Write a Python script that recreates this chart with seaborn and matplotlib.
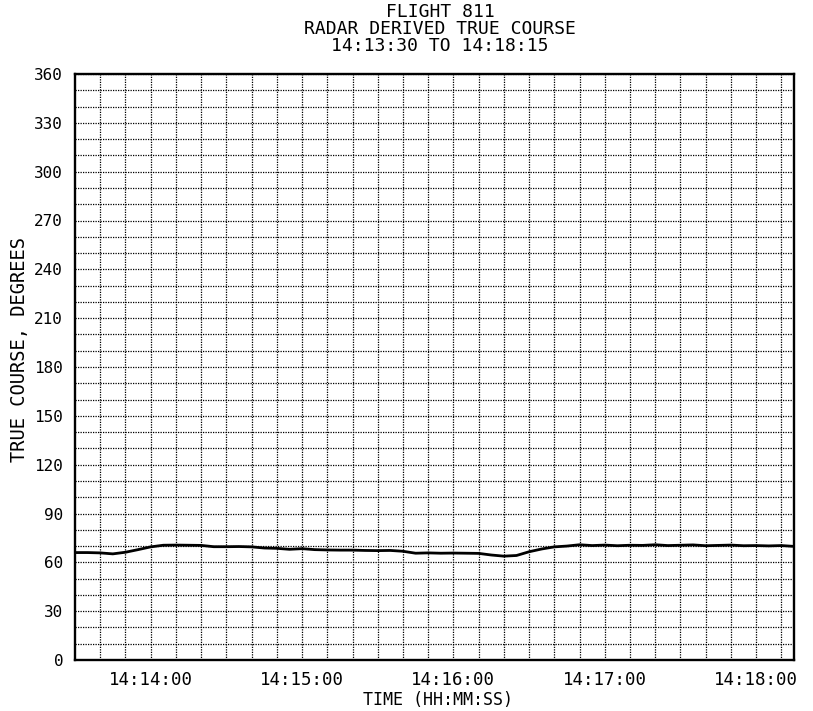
import pandas as pd
import numpy as np
import matplotlib
matplotlib.use("Agg")
import matplotlib.pyplot as plt
import seaborn as sns

# radar derived true course, one sample every 5 s
times = ["14:13:30", "14:13:35", "14:13:40", "14:13:45", "14:13:50", "14:13:55",
         "14:14:00", "14:14:05", "14:14:10", "14:14:15", "14:14:20", "14:14:25",
         "14:14:30", "14:14:35", "14:14:40", "14:14:45", "14:14:50", "14:14:55",
         "14:15:00", "14:15:05", "14:15:10", "14:15:15", "14:15:20", "14:15:25",
         "14:15:30", "14:15:35", "14:15:40", "14:15:45", "14:15:50", "14:15:55",
         "14:16:00", "14:16:05", "14:16:10", "14:16:15", "14:16:20", "14:16:25",
         "14:16:30", "14:16:35", "14:16:40", "14:16:45", "14:16:50", "14:16:55",
         "14:17:00", "14:17:05", "14:17:10", "14:17:15", "14:17:20", "14:17:25",
         "14:17:30", "14:17:35", "14:17:40", "14:17:45", "14:17:50", "14:17:55",
         "14:18:00", "14:18:05", "14:18:10", "14:18:15"]
course = [66.0, 66.0, 65.8, 65.2, 66.2, 67.8,
          69.5, 70.5, 70.6, 70.5, 70.4, 69.6,
          69.6, 69.7, 69.5, 68.8, 68.6, 68.0,
          68.4, 67.8, 67.6, 67.5, 67.5, 67.3,
          67.2, 67.3, 66.8, 65.6, 65.8, 65.6,
          65.7, 65.6, 65.5, 64.5, 63.8, 64.2,
          66.5, 68.2, 69.5, 70.0, 70.8, 70.3,
          70.6, 70.2, 70.5, 70.4, 70.8, 70.3,
          70.5, 70.7, 70.2, 70.4, 70.6, 70.2,
          70.3, 70.1, 70.3, 69.8]

xtick_labels = ["14:14:00", "14:15:00", "14:16:00", "14:17:00", "14:18:00"]
ytick_values = [0, 30, 60, 90, 120, 150, 180, 210, 240, 270, 300, 330, 360]
title_lines = ["FLIGHT 811", "RADAR DERIVED TRUE COURSE", "14:13:30 TO 14:18:15"]

font = "DejaVu Sans Mono"

df = pd.DataFrame({"time": times, "course": course})
df["sec"] = pd.to_timedelta(df["time"]).dt.total_seconds()
t0 = df["sec"].iloc[0]
t1 = df["sec"].iloc[-1]

sns.set_style("white")
plt.rcParams["font.family"] = [font]
plt.rcParams["text.color"] = "black"
plt.rcParams["axes.labelcolor"] = "black"
plt.rcParams["xtick.color"] = "black"
plt.rcParams["ytick.color"] = "black"

fig = plt.figure(figsize=(8.13, 7.11), dpi=100)
ax = fig.add_axes([75 / 813, 1 - 660 / 711, (794 - 75) / 813, (660 - 74) / 711])

sns.lineplot(data=df, x="sec", y="course", color="black", linewidth=2.0, ax=ax)

ax.set_xlim(t0, t1)
ax.set_ylim(0, 360)

# dotted grid every 10 s / 10 deg
ax.set_xticks(np.arange(t0 + 10 - (t0 % 10), t1, 10), minor=True)
ax.set_yticks(np.arange(10, 360, 10), minor=True)
ax.grid(which="both", color="black", linestyle=(0, (1, 1)), linewidth=0.9)

xt = pd.to_timedelta(xtick_labels).total_seconds()
ax.set_xticks(xt)
ax.set_xticklabels(xtick_labels, fontsize=12.5)
ax.set_yticks(ytick_values)
ax.set_yticklabels([str(v) for v in ytick_values], fontsize=11.5)

ax.tick_params(axis="both", which="major", direction="in", length=11, width=1.6,
               color="black", labelcolor="black")
ax.tick_params(axis="y", which="major", pad=8.5)
ax.tick_params(axis="x", which="major", pad=8)
ax.tick_params(axis="both", which="minor", length=0)

for s in ax.spines.values():
    s.set_visible(True)
    s.set_color("black")
    s.set_linewidth(1.7)

ax.set_xlabel("TIME (HH:MM:SS)", fontsize=12, va="center", color="black")
ax.xaxis.set_label_coords((438 - 75) / 719, -(700 - 660) / 586)
ax.set_ylabel("TRUE COURSE, DEGREES", fontsize=13.5, va="center", color="black")
ax.yaxis.set_label_coords((20 - 75) / 719, (660 - 349) / 586)

fig.text(440 / 813, 1 - 29 / 711, "\n".join(title_lines), ha="center", va="center",
         fontsize=13, linespacing=0.9, color="black")

fig.savefig("out.png", dpi=100, facecolor="white")
